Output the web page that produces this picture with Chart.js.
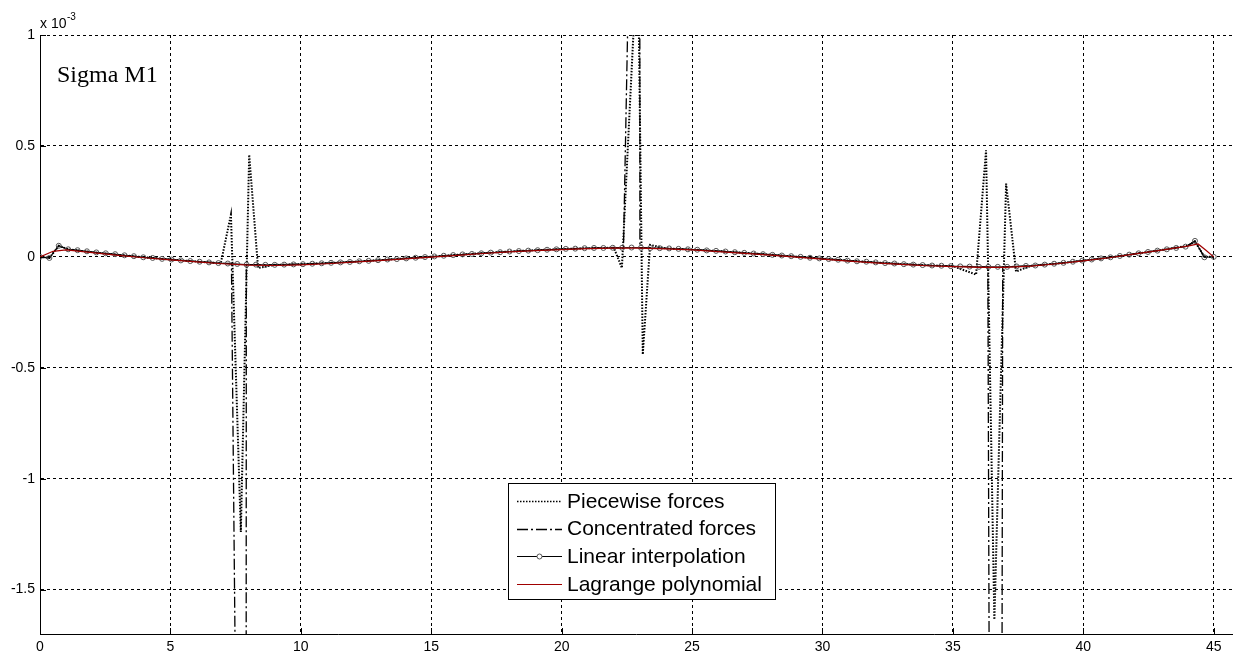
<!DOCTYPE html>
<html>
<head>
<meta charset="utf-8">
<script src="https://cdn.jsdelivr.net/npm/chart.js@4.4.1/dist/chart.umd.min.js"></script>
<style>
  html, body { margin: 0; padding: 0; background: #fff; }
  #wrap { position: relative; width: 1237px; height: 655px; }
</style>
</head>
<body>
<div id="wrap"><canvas id="graph"></canvas></div>
<script>
// values in units of 1e-3 (axis multiplier shown as "x 10^-3")
const linX = [0, 0.36, 0.72, 1.08, 1.44, 1.8, 2.16, 2.52, 2.88, 3.24, 3.6, 3.96, 4.32, 4.68, 5.04, 5.4, 5.76, 6.12, 6.48, 6.84,
  7.2, 7.56, 7.92, 8.28, 8.64, 9, 9.36, 9.72, 10.08, 10.44, 10.8, 11.16, 11.52, 11.88, 12.24, 12.6, 12.96, 13.32, 13.68, 14.04,
  14.4, 14.76, 15.12, 15.48, 15.84, 16.2, 16.56, 16.92, 17.28, 17.64, 18, 18.36, 18.72, 19.08, 19.44, 19.8, 20.16, 20.52, 20.88, 21.24,
  21.6, 21.96, 22.32, 22.68, 23.04, 23.4, 23.76, 24.12, 24.48, 24.84, 25.2, 25.56, 25.92, 26.28, 26.64, 27, 27.36, 27.72, 28.08, 28.44,
  28.8, 29.16, 29.52, 29.88, 30.24, 30.6, 30.96, 31.32, 31.68, 32.04, 32.4, 32.76, 33.12, 33.48, 33.84, 34.2, 34.56, 34.92, 35.28, 35.64,
  36, 36.36, 36.72, 37.08, 37.44, 37.8, 38.16, 38.52, 38.88, 39.24, 39.6, 39.96, 40.32, 40.68, 41.04, 41.4, 41.76, 42.12, 42.48, 42.84,
  43.2, 43.56, 43.92, 44.28, 44.64, 45];
const linY = [0, -0.005, 0.05, 0.034, 0.03, 0.025, 0.02, 0.016, 0.012, 0.007, 0.003, -0.002, -0.005, -0.009, -0.012, -0.016, -0.019, -0.022, -0.025, -0.028,
  -0.03, -0.032, -0.035, -0.035, -0.036, -0.036, -0.035, -0.034, -0.033, -0.031, -0.029, -0.027, -0.025, -0.023, -0.02, -0.018, -0.015, -0.012, -0.01, -0.007,
  -0.004, -0.001, 0.002, 0.005, 0.008, 0.011, 0.013, 0.016, 0.019, 0.021, 0.024, 0.026, 0.028, 0.03, 0.032, 0.034, 0.036, 0.037, 0.039, 0.04,
  0.04, 0.041, 0.041, 0.042, 0.041, 0.04, 0.039, 0.038, 0.036, 0.034, 0.032, 0.029, 0.027, 0.024, 0.021, 0.018, 0.015, 0.012, 0.009, 0.006,
  0.003, 0, -0.004, -0.007, -0.01, -0.013, -0.017, -0.02, -0.022, -0.025, -0.028, -0.03, -0.033, -0.035, -0.037, -0.039, -0.04, -0.042, -0.043, -0.044,
  -0.045, -0.045, -0.045, -0.045, -0.043, -0.041, -0.039, -0.035, -0.031, -0.027, -0.022, -0.017, -0.012, -0.007, -0.002, 0.004, 0.01, 0.016, 0.022, 0.028,
  0.034, 0.04, 0.046, 0.072, -0.002, 0];

const lagX = [0, 0.5, 1, 2, 3, 4, 5, 6, 7, 8, 9, 10, 11, 12, 13, 14, 15, 16, 17, 18, 19, 20, 21, 22, 23, 24,
  25, 26, 27, 28, 29, 30, 31, 32, 33, 34, 35, 36, 37, 38, 39, 40, 41, 42, 43, 44, 44.4, 44.7, 45];
const lagY = [0, 0.025, 0.031, 0.019, 0.007, -0.004, -0.014, -0.023, -0.031, -0.037, -0.039, -0.036, -0.031, -0.024, -0.017, -0.009, -0.001, 0.007, 0.015, 0.022, 0.028, 0.033, 0.037, 0.039, 0.039, 0.036,
  0.031, 0.024, 0.016, 0.008, -0.001, -0.01, -0.019, -0.027, -0.034, -0.04, -0.044, -0.047, -0.047, -0.042, -0.031, -0.018, -0.004, 0.013, 0.03, 0.048, 0.058, 0.03, 0];

const pwX = [0, 0.36, 0.72, 1.08, 2, 3, 4, 5, 6, 6.93, 7.32, 7.7, 8.02, 8.36, 9, 10, 11, 12, 13, 14, 15, 16, 17, 18, 19, 20, 21, 22,
  22.31, 22.92, 23.11, 23.39, 24, 25, 26, 27, 28, 29, 30, 31, 32, 33, 34, 35, 35.89, 36.27, 36.59, 37.04, 37.42, 38, 39, 40, 41, 42, 43, 44, 44.28, 44.64, 45];
const pwY = [0, -0.005, 0.05, 0.034, 0.021, 0.009, -0.002, -0.012, -0.021, -0.029, 0.19, -1.24, 0.46, -0.05, -0.036, -0.033, -0.028, -0.022, -0.015, -0.007, 0.001, 0.009, 0.017, 0.024, 0.03, 0.035, 0.039, 0.041,
  -0.05, 1.41, -0.44, 0.054, 0.038, 0.033, 0.026, 0.018, 0.01, 0.001, -0.008, -0.017, -0.025, -0.032, -0.038, -0.042, -0.08, 0.48, -1.635, 0.33, -0.066, -0.04, -0.03, -0.017, -0.003, 0.014, 0.031, 0.05, 0.07, 0, 0];

const cfX = [0, 0.36, 0.72, 1.08, 2, 3, 4, 5, 6, 7, 7.34, 7.62, 7.9, 7.91, 8.3, 9, 10, 11, 12, 13, 14, 15, 16, 17, 18, 19, 20, 21, 22,
  22.37, 22.85, 22.99, 23, 23.4, 24, 25, 26, 27, 28, 29, 30, 31, 32, 33, 34, 35, 36, 36.34, 36.45, 36.85, 36.91, 37.5, 38, 39, 40, 41, 42, 43, 44, 44.28, 44.64, 45];
const cfY = [0, -0.005, 0.05, 0.034, 0.021, 0.009, -0.002, -0.012, -0.021, -0.029, -0.03, -3.5, -3.5, -0.035, -0.035, -0.036, -0.033, -0.028, -0.022, -0.015, -0.007, 0.001, 0.009, 0.017, 0.024, 0.03, 0.035, 0.039, 0.041,
  0.04, 3, 3, 0.041, 0.04, 0.038, 0.033, 0.026, 0.018, 0.01, 0.001, -0.008, -0.017, -0.025, -0.032, -0.038, -0.042, -0.045, -0.045, -4, -4, -0.045, -0.043, -0.04, -0.03, -0.017, -0.003, 0.014, 0.031, 0.05, 0.07, 0, 0];

const seriesNames = ['Piecewise forces', 'Concentrated forces', 'Linear interpolation', 'Lagrange polynomial'];

function toXY(xs, ys) {
  return xs.map((x, i) => ({ x: x, y: ys[i] }));
}

const ctx = document.getElementById('graph');

// legend box, axis multiplier, panel label and inward tick marks
const matlabDecor = {
  id: 'matlabDecor',
  afterDraw(chart) {
    const c = chart.ctx;
    const xs = chart.scales.x, ys = chart.scales.y;
    const area = chart.chartArea;
    c.save();

    // inner ticks
    c.strokeStyle = '#000';
    c.lineWidth = 1;
    c.setLineDash([]);
    xs.ticks.forEach(t => {
      const px = Math.round(xs.getPixelForValue(t.value)) + 0.5;
      c.beginPath(); c.moveTo(px, area.bottom); c.lineTo(px, area.bottom - 6); c.stroke();
    });
    ys.ticks.forEach(t => {
      const py = Math.round(ys.getPixelForValue(t.value)) + 0.5;
      c.beginPath(); c.moveTo(area.left, py); c.lineTo(area.left + 6, py); c.stroke();
    });

    // multiplier
    c.fillStyle = '#000';
    c.textBaseline = 'alphabetic';
    c.font = '14px "Liberation Sans", Arial, sans-serif';
    c.fillText('x 10', 40, 28);
    c.font = '10px "Liberation Sans", Arial, sans-serif';
    c.fillText('-3', 67, 20);

    // panel label
    c.font = '24px "Liberation Serif", "Times New Roman", serif';
    c.fillText('Sigma M1', 57, 82);

    // legend
    const bx = 508.5, by = 483.5, bw = 267, bh = 116;
    c.fillStyle = '#fff';
    c.fillRect(bx, by, bw, bh);
    c.strokeStyle = '#000';
    c.strokeRect(bx, by, bw, bh);
    const rows = [501, 528.5, 556, 584];
    chart.data.datasets.forEach((ds, i) => {
      const y = Math.round(rows[i]) + 0.5;
      c.strokeStyle = ds.borderColor;
      c.lineWidth = Math.min(ds.borderWidth, 1.3);
      c.setLineDash(ds.borderDash || []);
      c.beginPath(); c.moveTo(517, y); c.lineTo(562, y); c.stroke();
      c.setLineDash([]);
      if (ds.pointRadius > 0) {
        c.lineWidth = 1;
        c.strokeStyle = ds.pointBorderColor;
        c.fillStyle = '#fff';
        c.beginPath(); c.arc(539.5, y, ds.pointRadius, 0, Math.PI * 2); c.fill(); c.stroke();
      }
      c.fillStyle = '#000';
      c.font = '21px "Liberation Sans", Arial, sans-serif';
      c.textBaseline = 'middle';
      c.fillText(ds.label, 567, rows[i] + 1);
    });
    c.restore();
  }
};

new Chart(ctx, {
  type: 'scatter',
  data: {
    datasets: [{
      label: seriesNames[0],
      data: toXY(pwX, pwY),
      showLine: true,
      borderColor: '#000',
      borderWidth: 2,
      borderDash: [1.5, 1.5],
      pointRadius: 0,
      order: 3
    }, {
      label: seriesNames[1],
      data: toXY(cfX, cfY),
      showLine: true,
      borderColor: '#000',
      borderWidth: 1.3,
      borderDash: [11, 3, 2, 3],
      pointRadius: 0,
      order: 2
    }, {
      label: seriesNames[2],
      data: toXY(linX, linY),
      showLine: true,
      borderColor: '#000',
      borderWidth: 1,
      pointRadius: 2.5,
      pointBorderWidth: 1,
      pointBorderColor: '#555',
      pointBackgroundColor: 'rgba(255,255,255,0)',
      order: 1
    }, {
      label: seriesNames[3],
      data: toXY(lagX, lagY),
      showLine: true,
      borderColor: '#a00000',
      borderWidth: 1.2,
      pointRadius: 0,
      order: 0
    }]
  },
  options: {
    responsive: true,
    maintainAspectRatio: false,
    animation: false,
    layout: { padding: { left: 0, top: 35, right: 2, bottom: 0 } },
    plugins: {
      legend: { display: false },
      tooltip: { enabled: false }
    },
    scales: {
      x: {
        type: 'linear',
        min: 0,
        max: 45.7,
        afterFit: s => { s.height = 21; },
        ticks: {
          stepSize: 5,
          includeBounds: false,
          padding: 5,
          color: '#000',
          font: { family: '"Liberation Sans", Arial, sans-serif', size: 14 },
          maxRotation: 0
        },
        grid: { color: '#000', lineWidth: 1, drawTicks: false },
        border: { display: true, color: '#000', width: 1, dash: [3, 3] }
      },
      y: {
        min: -1.7,
        max: 1,
        afterFit: s => { s.width = 40; },
        ticks: {
          stepSize: 0.5,
          includeBounds: false,
          padding: 5,
          color: '#000',
          font: { family: '"Liberation Sans", Arial, sans-serif', size: 14 },
          callback: v => String(Math.round(v * 10) / 10)
        },
        grid: { color: '#000', lineWidth: 1, drawTicks: false },
        border: { display: true, color: '#000', width: 1, dash: [3, 3] }
      }
    }
  },
  plugins: [matlabDecor]
});
</script>
</body>
</html>
